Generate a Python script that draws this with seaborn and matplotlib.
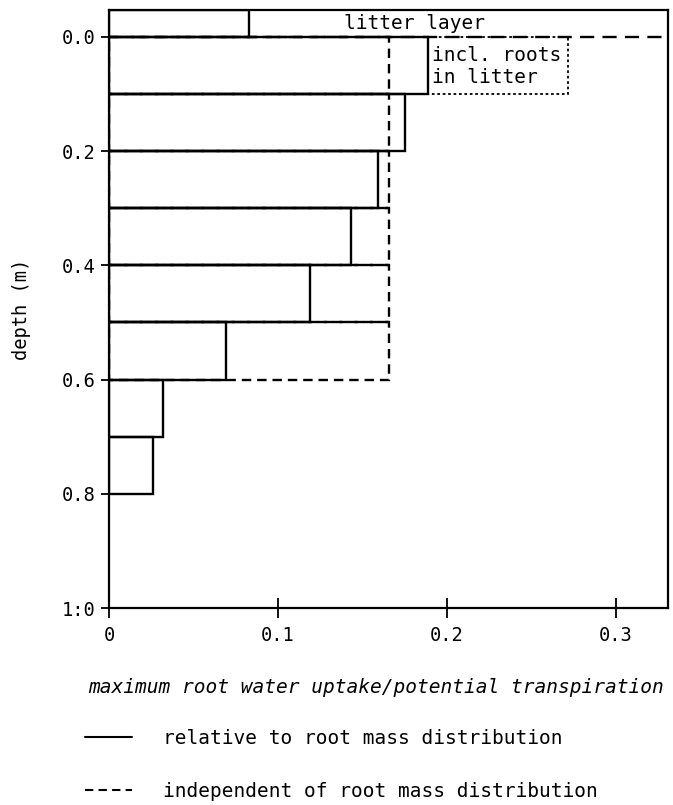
import numpy as np
import pandas as pd
import matplotlib
matplotlib.use("Agg")
import matplotlib.pyplot as plt
from matplotlib.lines import Line2D
import seaborn as sns

# ---------------- data ----------------
layer_top = [0.0, 0.1, 0.2, 0.3, 0.4, 0.5, 0.6, 0.7]          # depth of layer tops (m)
layer_thick = 0.1
uptake_relative = [0.189, 0.175, 0.159, 0.143, 0.119, 0.069, 0.032, 0.026]
indep_top = [0.0, 0.1, 0.2, 0.3, 0.4, 0.5]
uptake_independent = [0.166, 0.166, 0.166, 0.166, 0.166, 0.166]
litter_top = -0.047
litter_value = 0.083
litter_roots_extra = 0.083      # extra uptake from roots in litter (top layer)
xticks = [0, 0.1, 0.2, 0.3]
xticklabels = ["0", "0.1", "0.2", "0.3"]
yticks = [0.0, 0.2, 0.4, 0.6, 0.8, 1.0]
yticklabels = ["0.0", "0.2", "0.4", "0.6", "0.8", "1:0"]

sns.set_theme(style="ticks")
mono = ["DejaVu Sans Mono", "DejaVu Sans"]
plt.rcParams["font.family"] = mono
plt.rcParams["axes.linewidth"] = 1.6
plt.rcParams["text.color"] = "black"
plt.rcParams["xtick.color"] = "black"
plt.rcParams["ytick.color"] = "black"
plt.rcParams["axes.labelcolor"] = "black"

fig = plt.figure(figsize=(6.73, 8.05), dpi=100)
ax = fig.add_axes([109/673, 1-608/805, (668-109)/673, (608-10)/805])

lw = 1.7
# dashed: independent of root mass distribution
ax.barh(indep_top, uptake_independent, height=layer_thick, align="edge",
        fill=False, edgecolor="black", linewidth=lw, linestyle=(0, (4, 2.5)))
# dashed line at soil surface
ax.axhline(0.0, color="black", linewidth=lw, linestyle=(0, (6, 3.5)))
# dotted: incl. roots in litter
ax.barh([layer_top[0]], [litter_roots_extra], left=[uptake_relative[0]], height=layer_thick,
        align="edge", fill=False, edgecolor="black", linewidth=1.3, linestyle=(0, (1.5, 1.5)))
# solid: relative to root mass distribution
ax.barh(layer_top, uptake_relative, height=layer_thick, align="edge",
        fill=False, edgecolor="black", linewidth=lw)
ax.barh([litter_top], [litter_value], height=-litter_top, align="edge",
        fill=False, edgecolor="black", linewidth=lw)

ax.set_xlim(0, 0.331)
ax.set_ylim(1.0, litter_top)

ax.set_xticks(xticks)
ax.set_xticklabels(xticklabels)
ax.set_yticks(yticks)
ax.set_yticklabels(yticklabels)
ax.tick_params(axis="x", direction="inout", length=14, width=1.3, labelsize=13.5, pad=6)
ax.tick_params(axis="y", direction="out", length=6, width=1.3, labelsize=13.5, pad=4)
for s in ax.spines.values():
    s.set_visible(True)
    s.set_color("black")

ax.set_ylabel("depth (m)", fontsize=13.5, labelpad=22)

ax.text(0.139, -0.024, "litter layer", fontsize=14, va="center", ha="left")
ax.text(0.191, 0.032, "incl. roots", fontsize=14, va="center", ha="left")
ax.text(0.191, 0.072, "in litter", fontsize=14, va="center", ha="left")

fig.text(376/673, 1-687/805, "maximum root water uptake/potential transpiration",
         fontsize=14, style="italic", ha="center", va="center")

handles = [Line2D([], [], color="black", linewidth=1.5),
           Line2D([], [], color="black", linewidth=1.5, linestyle=(0, (4, 2.5)))]
labels = ["relative to root mass distribution", "independent of root mass distribution"]
fig.legend(handles, labels, loc="upper left", bbox_to_anchor=(85/673, 1-729/805),
           frameon=False, fontsize=14, handlelength=2.4, handletextpad=1.6,
           labelspacing=1.75, borderpad=0, borderaxespad=0)

fig.savefig("out.png", dpi=100)
